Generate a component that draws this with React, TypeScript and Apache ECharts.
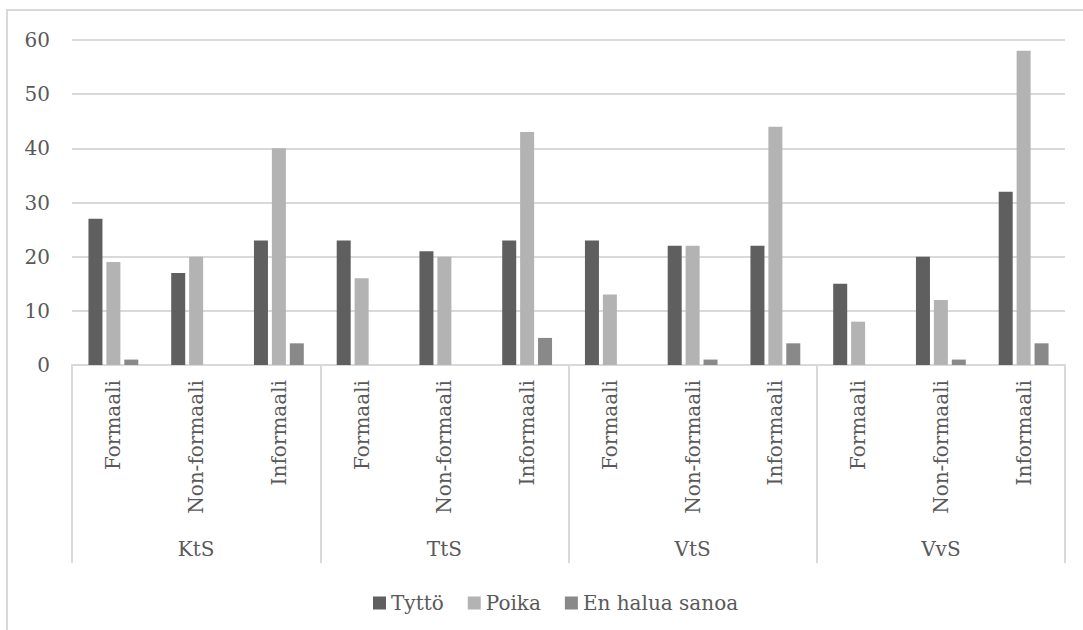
import React, { useEffect, useRef } from "react";
import * as echarts from "echarts";

const categories = [
  "Formaali", "Non-formaali", "Informaali",
  "Formaali", "Non-formaali", "Informaali",
  "Formaali", "Non-formaali", "Informaali",
  "Formaali", "Non-formaali", "Informaali",
];
const groups = ["KtS", "TtS", "VtS", "VvS"];

const tytto = [27, 17, 23, 23, 21, 23, 23, 22, 22, 15, 20, 32];
const poika = [19, 20, 40, 16, 20, 43, 13, 22, 44, 8, 12, 58];
const enHalua = [1, 0, 4, 0, 0, 5, 0, 1, 4, 0, 1, 4];

const FONT = "DejaVu Serif";
const TEXT = "#595959";
const LINE = "#d9d9d9";

export default function App() {
  const ref = useRef<HTMLDivElement>(null);

  useEffect(() => {
    if (!ref.current) return;
    const chart = echarts.init(ref.current, undefined, { renderer: "svg" });
    const bar = (name: string, data: number[], color: string) => ({
      name,
      type: "bar",
      data,
      barWidth: 14,
      barGap: "28%",
      itemStyle: { color },
      xAxisIndex: 0,
      yAxisIndex: 0,
    });
    chart.setOption({
      animation: false,
      backgroundColor: "#ffffff",
      textStyle: { fontFamily: FONT },
      graphic: [
        {
          type: "rect",
          shape: { x: 7, y: 10, width: 1200, height: 800 },
          style: { fill: "none", stroke: LINE, lineWidth: 2 },
          silent: true,
        },
      ],
      legend: {
        left: 368,
        top: 588,
        itemWidth: 13,
        itemHeight: 13,
        itemGap: 24,
        icon: "rect",
        textStyle: { fontFamily: FONT, fontSize: 20, color: TEXT },
        data: ["Tyttö", "Poika", "En halua sanoa"],
      },
      grid: { left: 72, right: 18, top: 40, bottom: 265, containLabel: false },
      xAxis: [
        {
          type: "category",
          data: categories,
          position: "bottom",
          axisLine: { show: true, lineStyle: { color: LINE, width: 2 } },
          axisTick: { show: false },
          axisLabel: {
            interval: 0,
            rotate: 90,
            margin: 15,
            fontFamily: FONT,
            fontSize: 20,
            color: TEXT,
          },
        },
        {
          type: "category",
          data: groups,
          position: "bottom",
          axisLine: { show: false },
          axisTick: {
            show: true,
            length: 198,
            lineStyle: { color: LINE, width: 2 },
          },
          axisLabel: {
            interval: 0,
            margin: 174,
            fontFamily: FONT,
            fontSize: 20,
            color: TEXT,
          },
        },
      ],
      yAxis: {
        type: "value",
        min: 0,
        max: 60,
        interval: 10,
        axisLine: { show: false },
        axisTick: { show: false },
        splitLine: { lineStyle: { color: LINE, width: 2 } },
        axisLabel: { margin: 22, fontFamily: FONT, fontSize: 20, color: TEXT },
      },
      series: [
        bar("Tyttö", tytto, "#5f5f5f"),
        bar("Poika", poika, "#b3b3b3"),
        bar("En halua sanoa", enHalua, "#898989"),
      ],
    });
    return () => chart.dispose();
  }, []);

  return (
    <div
      ref={ref}
      style={{ position: "absolute", left: 0, top: 0, width: 1083, height: 630 }}
    />
  );
}
